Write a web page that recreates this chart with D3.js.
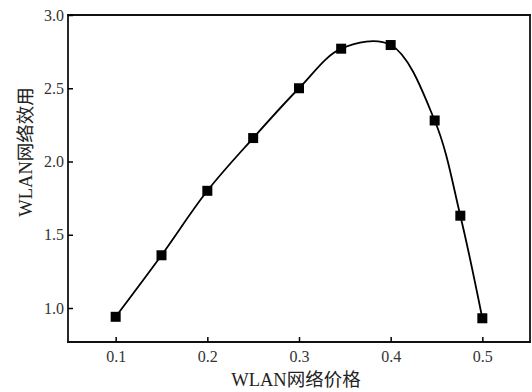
<!DOCTYPE html>
<html><head><meta charset="utf-8">
<script src="https://cdn.jsdelivr.net/npm/d3@7"></script>
<style>body{margin:0;background:#fff}svg{display:block}</style>
</head><body>
<svg id="c" width="532" height="392"></svg>
<script>
const prices = [0.1, 0.15, 0.2, 0.25, 0.3, 0.346, 0.4, 0.448, 0.476, 0.5];
const utility = [0.94, 1.36, 1.80, 2.16, 2.50, 2.77, 2.795, 2.28, 1.63, 0.93];
const xTicks = [0.1, 0.2, 0.3, 0.4, 0.5];
const yTicks = [1.0, 1.5, 2.0, 2.5, 3.0];
const xTitle = "WLAN网络价格";
const yTitle = "WLAN网络效用";

const svg = d3.select("#c");
const L = 68, R = 530, T = 15, B = 342;
const x = d3.scaleLinear().domain([0.048, 0.552]).range([L, R]);
const y = d3.scaleLinear().domain([0.768, 3.0]).range([B, T]);
const font = "'Liberation Serif','Times New Roman','Noto Sans CJK SC',serif";

const g = svg.append("g");
// frame
const frame = [[L, T, R, T], [R, T, R, B], [L, B, R, B], [L, T, L, B]];
g.selectAll("line.frame").data(frame).join("line").attr("class", "frame")
  .attr("x1", d => d[0]).attr("y1", d => d[1]).attr("x2", d => d[2]).attr("y2", d => d[3])
  .attr("stroke", "#111").attr("stroke-width", 1.8).attr("stroke-linecap", "square");

const xa = g.append("g").attr("transform", `translate(0,${B})`)
  .call(d3.axisBottom(x).tickValues(xTicks).tickFormat(d3.format(".1f")).tickSizeInner(-5).tickSizeOuter(0).tickPadding(9));
const ya = g.append("g").attr("transform", `translate(${L},0)`)
  .call(d3.axisLeft(y).tickValues(yTicks).tickFormat(d3.format(".1f")).tickSizeInner(-5).tickSizeOuter(0).tickPadding(4));
[xa, ya].forEach(a => {
  a.select(".domain").remove();
  a.selectAll(".tick line").attr("stroke", "#000").attr("stroke-width", 1.5);
  a.selectAll("text").attr("font-family", font).attr("font-size", 16).attr("fill", "#333");
});

const line = d3.line().x((d, i) => x(prices[i])).y(d => y(d)).curve(d3.curveCatmullRom.alpha(0.5));
g.append("path").datum(utility).attr("d", line).attr("fill", "none")
  .attr("stroke", "#000").attr("stroke-width", 1.8);

g.selectAll("rect.m").data(utility).join("rect").attr("class", "m")
  .attr("x", (d, i) => x(prices[i]) - 5).attr("y", d => y(d) - 5)
  .attr("width", 10).attr("height", 10).attr("fill", "#000");

svg.append("text").attr("x", 296).attr("y", 386).attr("text-anchor", "middle")
  .attr("font-family", font).attr("font-size", 18.5).attr("fill", "#222").text(xTitle);
svg.append("text").attr("transform", "translate(32,152) rotate(-90)").attr("text-anchor", "middle")
  .attr("font-family", font).attr("font-size", 18.5).attr("fill", "#222").text(yTitle);
</script>
</body></html>
